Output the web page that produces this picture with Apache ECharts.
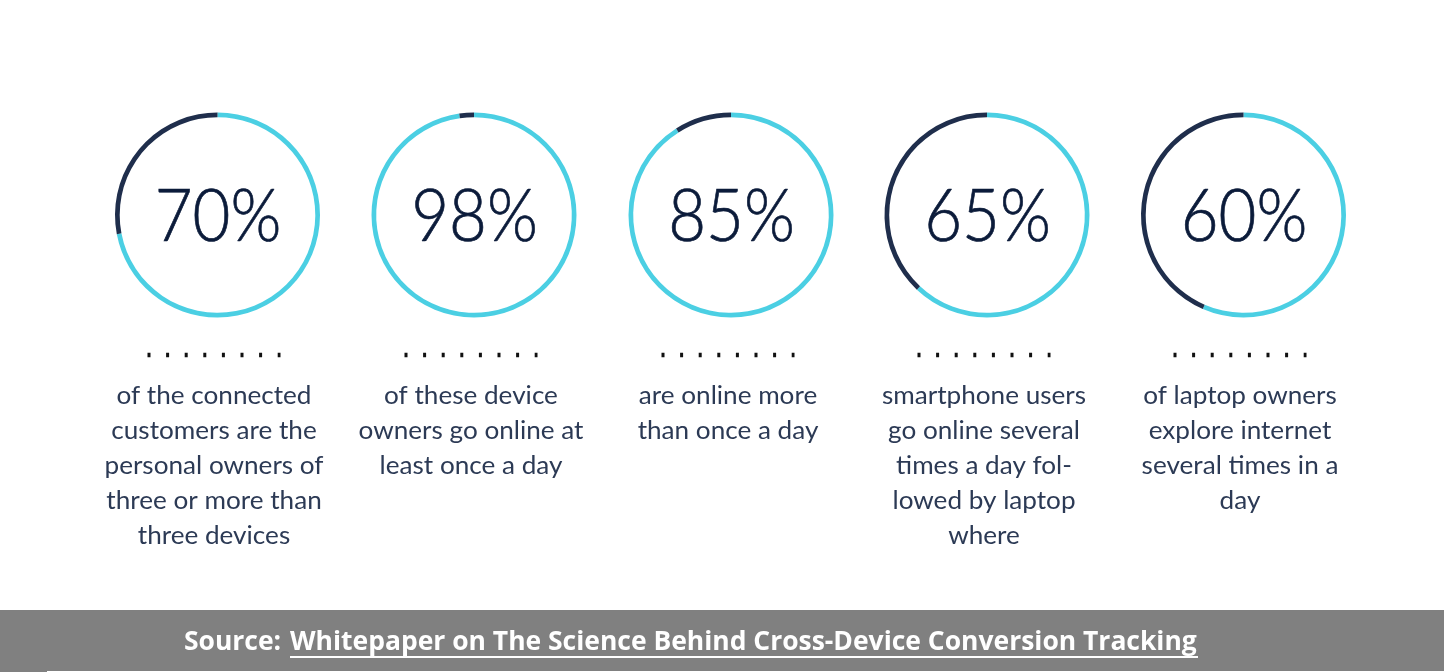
<!DOCTYPE html>
<html>
<head>
<meta charset="utf-8">
<style>html,body{margin:0;padding:0;background:#fff}#main{width:1444px;height:672px}</style>
<script src="https://cdn.jsdelivr.net/npm/echarts@6/dist/echarts.min.js"></script>
</head>
<body>
<div id="main"></div>
<script>
var percentLabels = ['70%', '98%', '85%', '65%', '60%'];
// share of each ring drawn in cyan, as measured on the picture
var cyanShare = [72, 97.7, 91, 62, 56.5];
var darkShare = [28, 2.3, 9, 38, 43.5];
var captions = [
  ['of the connected', 'customers are the', 'personal owners of', 'three or more than', 'three devices'],
  ['of these device', 'owners go online at', 'least once a day'],
  ['are online more', 'than once a day'],
  ['smartphone users', 'go online several', 'times a day fol-', 'lowed by laptop', 'where'],
  ['of laptop owners', 'explore internet', 'several times in a', 'day']
];
var sourceLead = 'Source: ';
var sourceLink = 'Whitepaper on The Science Behind Cross-Device Conversion Tracking';

var ringX = [217.5, 474, 731, 987, 1243.5];
var captionX = [214, 471, 728, 984, 1240];

var myChart = echarts.init(document.getElementById('main'));

var series = percentLabels.map(function (label, i) {
  return {
    type: 'pie',
    center: [ringX[i], 215],
    radius: [97.8, 102.5],
    startAngle: 90,
    clockwise: true,
    silent: true,
    animation: false,
    labelLine: { show: false },
    label: { show: false },
    data: [
      { value: cyanShare[i], itemStyle: { color: '#4BCFE3' } },
      { value: darkShare[i], itemStyle: { color: '#1F2E4C' } }
    ]
  };
});

var graphic = [];
percentLabels.forEach(function (label, i) {
  graphic.push({
    type: 'text', x: ringX[i] + 0.5, y: 217, scaleX: 0.895,
    style: { text: label, font: '300 73px Lato', fill: '#0B1B3A', stroke: '#0B1B3A', lineWidth: 0.7, align: 'center', verticalAlign: 'middle' }
  });
  graphic.push({
    type: 'line', silent: true,
    shape: { x1: captionX[i] - 66.5, y1: 355, x2: captionX[i] + 66.5, y2: 355 },
    style: { stroke: '#111', lineWidth: 4.5, lineDash: [3, 15.6] }
  });
  captions[i].forEach(function (line, j) {
    graphic.push({
      type: 'text', x: captionX[i], y: 395.5 + j * 35, scaleX: 1.045,
      style: { text: line, font: '400 25px Lato', fill: '#2C3A55', align: 'center', verticalAlign: 'middle' }
    });
  });
});
graphic.push({ type: 'rect', shape: { x: 0, y: 610, width: 1444, height: 62 }, style: { fill: '#808080' } });
graphic.push({ type: 'rect', shape: { x: 47, y: 671, width: 1397, height: 1 }, style: { fill: '#fff' } });
graphic.push({
  type: 'text', x: 184, y: 642.5, scaleX: 0.98,
  style: { text: sourceLead, font: '700 27px "Open Sans"', fill: '#fff', align: 'left', verticalAlign: 'middle' }
});
graphic.push({
  type: 'text', x: 290, y: 642.5, scaleX: 0.98,
  style: { text: sourceLink, font: '700 27px "Open Sans"', fill: '#fff', align: 'left', verticalAlign: 'middle' }
});
graphic.push({ type: 'rect', shape: { x: 290, y: 656, width: 908, height: 2 }, style: { fill: '#fff' } });

myChart.setOption({
  backgroundColor: '#fff',
  animation: false,
  series: series,
  graphic: graphic
});
</script>
</body>
</html>
